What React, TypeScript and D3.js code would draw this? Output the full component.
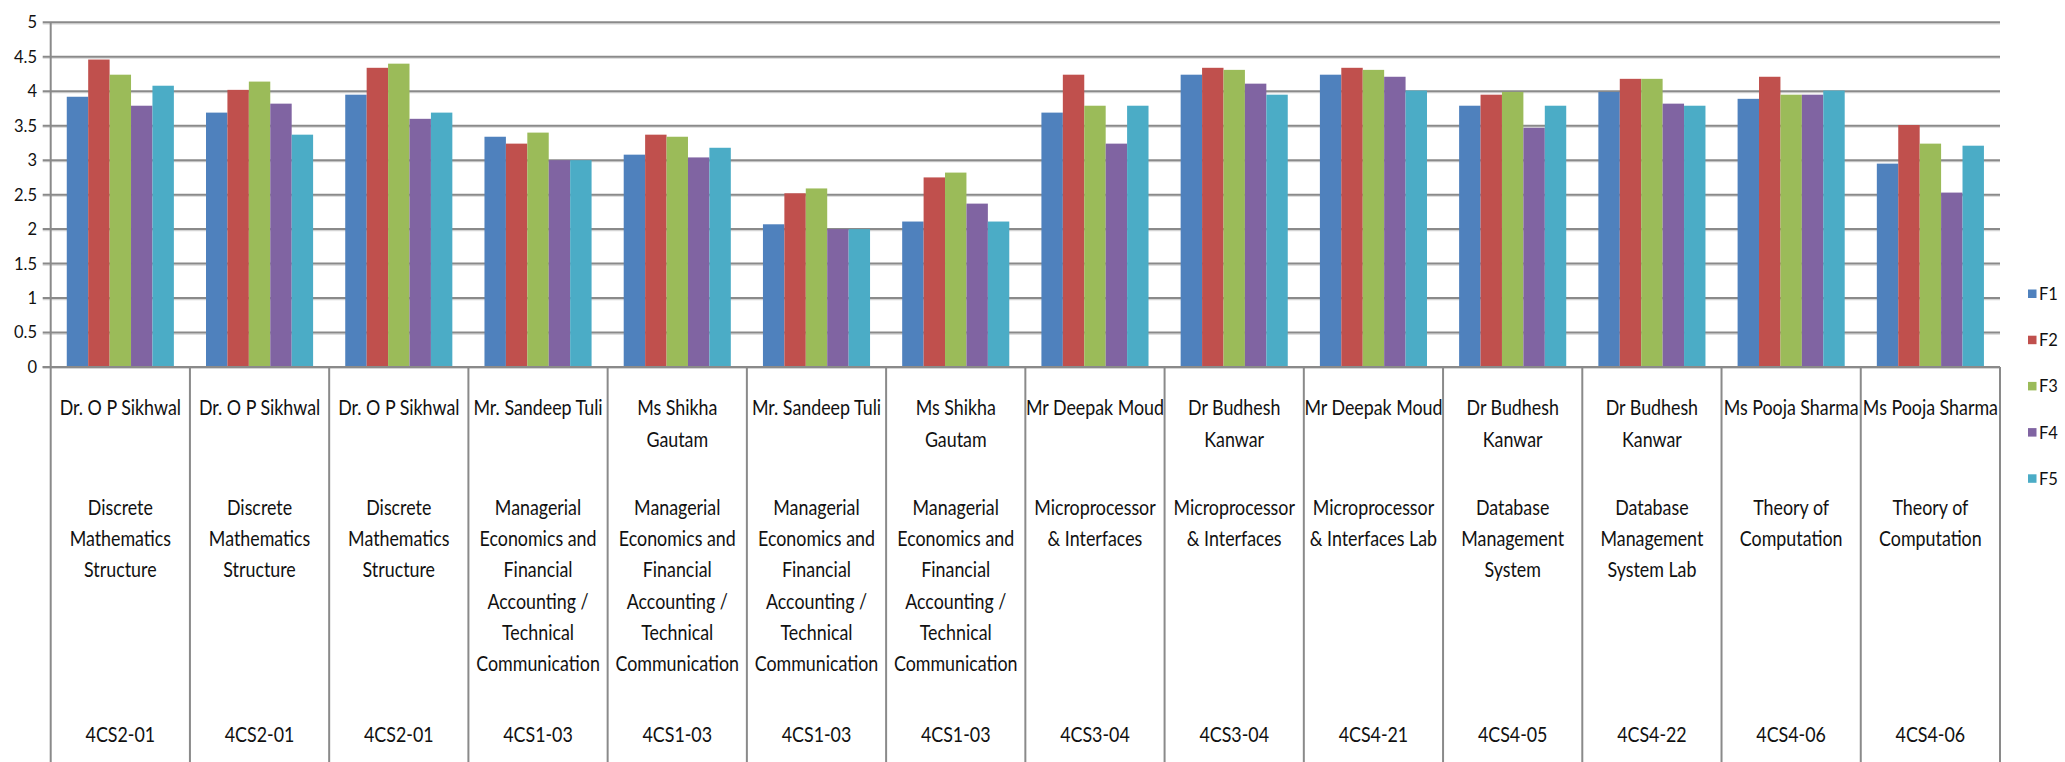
import React from "react";
import * as d3 from "d3";

const teachers = [
  "Dr. O P Sikhwal", "Dr. O P Sikhwal", "Dr. O P Sikhwal", "Mr. Sandeep Tuli",
  "Ms Shikha\nGautam", "Mr. Sandeep Tuli", "Ms Shikha\nGautam", "Mr Deepak Moud",
  "Dr Budhesh\nKanwar", "Mr Deepak Moud", "Dr Budhesh\nKanwar", "Dr Budhesh\nKanwar",
  "Ms Pooja Sharma", "Ms Pooja Sharma",
];
const MEFA = "Managerial\nEconomics and\nFinancial\nAccounting /\nTechnical\nCommunication";
const subjects = [
  "Discrete\nMathematics\nStructure", "Discrete\nMathematics\nStructure", "Discrete\nMathematics\nStructure",
  MEFA, MEFA, MEFA, MEFA,
  "Microprocessor\n& Interfaces", "Microprocessor\n& Interfaces", "Microprocessor\n& Interfaces Lab",
  "Database\nManagement\nSystem", "Database\nManagement\nSystem Lab",
  "Theory of\nComputation", "Theory of\nComputation",
];
const codes = [
  "4CS2-01", "4CS2-01", "4CS2-01", "4CS1-03", "4CS1-03", "4CS1-03", "4CS1-03",
  "4CS3-04", "4CS3-04", "4CS4-21", "4CS4-05", "4CS4-22", "4CS4-06", "4CS4-06",
];
const seriesNames = ["F1", "F2", "F3", "F4", "F5"];
const F1 = [3.92, 3.69, 3.95, 3.34, 3.08, 2.07, 2.11, 3.69, 4.24, 4.24, 3.79, 3.99, 3.89, 2.95];
const F2 = [4.46, 4.02, 4.34, 3.24, 3.37, 2.52, 2.75, 4.24, 4.34, 4.34, 3.95, 4.18, 4.21, 3.51];
const F3 = [4.24, 4.14, 4.40, 3.40, 3.34, 2.59, 2.82, 3.79, 4.31, 4.31, 3.99, 4.18, 3.95, 3.24];
const F4 = [3.79, 3.82, 3.60, 3.00, 3.04, 2.00, 2.37, 3.24, 4.11, 4.21, 3.47, 3.82, 3.95, 2.53];
const F5 = [4.08, 3.37, 3.69, 3.00, 3.18, 2.00, 2.11, 3.79, 3.95, 4.01, 3.79, 3.79, 4.01, 3.21];
const seriesValues = [F1, F2, F3, F4, F5];
const colors = ["#4F81BD", "#C0504D", "#9BBB59", "#8064A2", "#4BACC6"];
const yTicks = [0, 0.5, 1, 1.5, 2, 2.5, 3, 3.5, 4, 4.5, 5];

const W = 2065, H = 762;
const LEFT = 50.7, RIGHT = 2000, TOP = 22.3, BOTTOM = 367;
const FONT = "Lato, 'Open Sans', sans-serif";
const SX = 0.87;

export default function App() {
  const idx = d3.range(teachers.length).map(String);
  const x0 = d3.scaleBand<string>().domain(idx).range([LEFT, RIGHT]).paddingInner(0).paddingOuter(0);
  const x1 = d3.scaleBand<string>().domain(seriesNames).range([0, x0.bandwidth()]).paddingInner(0).paddingOuter(0.75);
  const y = d3.scaleLinear().domain([0, 5]).range([BOTTOM, TOP]);
  const grid = "#8a8a8a";

  return (
    <svg width={W} height={H} style={{ position: "absolute", left: 0, top: 0, background: "#fff" }} fontFamily={FONT}>
      <rect x={0} y={0} width={W} height={H} fill="#fff" />
      {/* gridlines */}
      {yTicks.map((t) => (
        <g key={t}>
          <line x1={LEFT - 8} x2={RIGHT} y1={y(t) + 1.5} y2={y(t) + 1.5} stroke="#d4d4d4" strokeWidth={1.2} />
          <line x1={LEFT - 8} x2={RIGHT} y1={y(t)} y2={y(t)} stroke={grid} strokeWidth={2} />
          <text x={37} y={y(t)} dy="0.36em" textAnchor="end" fontSize={16.5} fill="#111">{String(t)}</text>
        </g>
      ))}
      {/* bars */}
      {seriesValues.map((vals, s) => (
        <g key={s}>
          {vals.map((v, i) => (
            <rect key={i} x={(x0(String(i)) as number) + (x1(seriesNames[s]) as number)} y={y(v)}
              width={x1.bandwidth()} height={y(0) - y(v)} fill={colors[s]} />
          ))}
        </g>
      ))}
      {/* axes */}
      <line x1={LEFT - 8} x2={RIGHT} y1={y(0)} y2={y(0)} stroke={grid} strokeWidth={2} />
      <line x1={LEFT} x2={LEFT} y1={TOP} y2={H} stroke={grid} strokeWidth={2} />
      {idx.map((k) => (
        <line key={"sep" + k} x1={(x0(k) as number) + x0.bandwidth()} x2={(x0(k) as number) + x0.bandwidth()}
          y1={y(0)} y2={H} stroke={grid} strokeWidth={2} />
      ))}
      {/* category labels */}
      {idx.map((k, i) => {
        const cx = (x0(k) as number) + x0.bandwidth() / 2;
        const nameLines = teachers[i].split("\n");
        const subjLines = subjects[i].split("\n");
        return (
          <g key={"lab" + k} fontSize={20.5} fill="#111">
            {nameLines.map((ln, j) => (
              <text key={"n" + j} transform={`translate(${cx},${415 + j * 31.5}) scale(${SX},1)`} textAnchor="middle">{ln}</text>
            ))}
            {subjLines.map((ln, j) => (
              <text key={"s" + j} transform={`translate(${cx},${515 + j * 31.2}) scale(${SX},1)`} textAnchor="middle">{ln}</text>
            ))}
            <text transform={`translate(${cx},${741.5}) scale(${SX},1)`} textAnchor="middle">{codes[i]}</text>
          </g>
        );
      })}
      {/* legend */}
      {seriesNames.map((n, s) => (
        <g key={n} transform={`translate(2028,${294 + s * 46.2})`}>
          <rect x={0} y={-4.5} width={8.5} height={8.5} fill={colors[s]} />
          <text x={11} y={0} dy="0.36em" fontSize={16.5} fill="#111">{n}</text>
        </g>
      ))}
    </svg>
  );
}
